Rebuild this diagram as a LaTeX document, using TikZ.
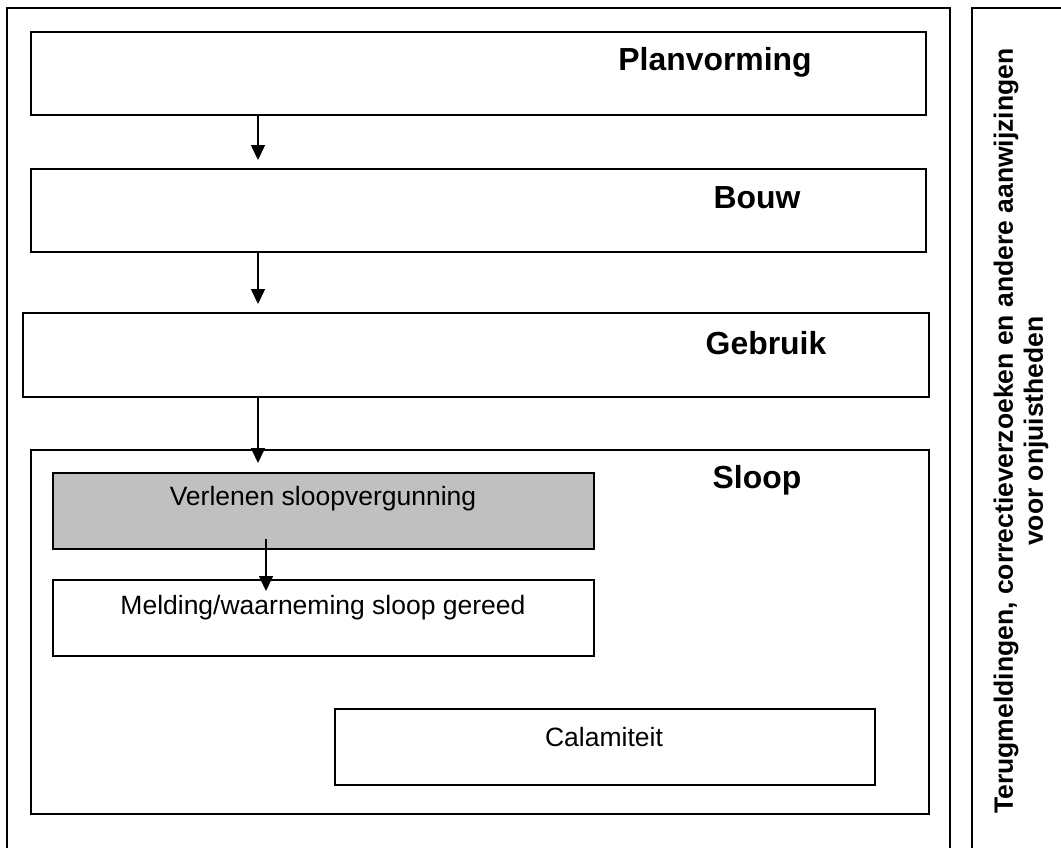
\documentclass[tikz,border=0pt]{standalone}
\usepackage{fontspec}
\setmainfont{Liberation Sans}
\usetikzlibrary{arrows.meta}
\definecolor{grijs}{RGB}{192,192,192}
\tikzset{>={Triangle[width=14pt,length=15pt]}}
\tikzset{
  fase/.style={draw, line width=1.6pt, anchor=north west, inner sep=0pt},
  kop/.style={font=\bfseries\fontsize{31.9}{38}\selectfont},
  tekst/.style={font=\fontsize{26.5}{32}\selectfont}
}

\begin{document}
\begin{tikzpicture}[x=1pt,y=-1pt]
  \useasboundingbox (0,0) rectangle (1061,847);

  % Frames
  \draw[line width=1.9pt] (7,870) -- (7,8) -- (950,8) -- (950,870);
  \draw[line width=1.9pt] (972,870) -- (972,8) -- (1080,8);

  % Phases
  \node[fase, minimum width=895pt, minimum height=83pt] (plan) at (30,31) {};
  \node[fase, minimum width=895pt, minimum height=83pt] (bouw) at (30,168) {};
  \node[fase, minimum width=906pt, minimum height=84pt] (gebruik) at (22,312) {};
  \node[fase, minimum width=898pt, minimum height=364pt] (sloop) at (30,449) {};

  \node[kop] (planlabel) at (715,62) {Planvorming};
  \node[kop] (bouwlabel) at (757,198) {Bouw};
  \node[kop] (gebruiklabel) at (766,343) {Gebruik};
  \node[kop] (slooplabel) at (757,480) {Sloop};

  % Steps inside Sloop
  \node[fase, fill=grijs, minimum width=541pt, minimum height=76pt] (verlenen) at (52,472) {};
  \node[fase, minimum width=541pt, minimum height=76pt] (melding) at (52,579) {};
  \node[fase, minimum width=540pt, minimum height=76pt] (calamiteit) at (334,708) {};

  \node[tekst] (verlenenlabel) at (323,499) {Verlenen sloopvergunning};
  \node[tekst] (meldinglabel) at (323,608) {Melding/waarneming sloop gereed};
  \node[tekst] (calamiteitlabel) at (604,737) {Calamiteit};

  % Arrows
  \coordinate (pijl1) at (258,160);
  \coordinate (pijl2) at (258,304);
  \coordinate (pijl3) at (258,463);
  \coordinate (pijl4a) at (266,539);
  \coordinate (pijl4b) at (266,591);
  \draw[->, line width=1.6pt] (plan.south -| pijl1) -- (pijl1);
  \draw[->, line width=1.6pt] (bouw.south -| pijl2) -- (pijl2);
  \draw[->, line width=1.6pt] (gebruik.south -| pijl3) -- (pijl3);
  \draw[->, line width=1.6pt] (pijl4a) -- (pijl4b);

  % Side panel text
  \node[font=\bfseries\fontsize{26.5}{30}\selectfont, align=center, rotate=90] (terug) at (1021,431)
    {Terugmeldingen, correctieverzoeken en andere aanwijzingen\\voor onjuistheden};
\end{tikzpicture}
\end{document}
